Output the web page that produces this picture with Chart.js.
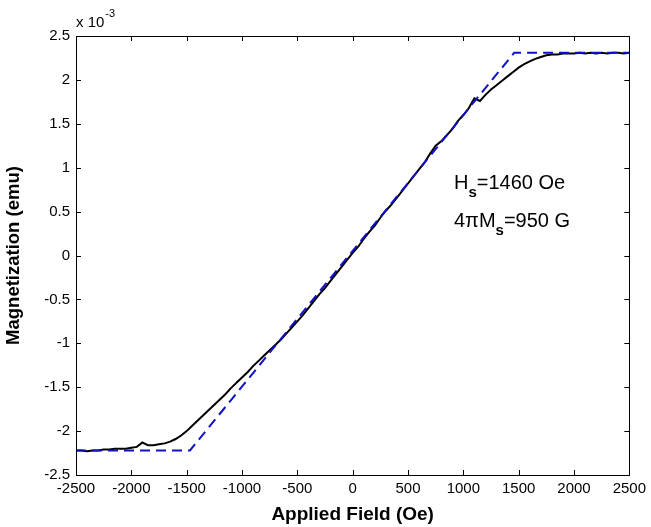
<!DOCTYPE html>
<html>
<head>
<meta charset="utf-8">
<script src="https://cdn.jsdelivr.net/npm/chart.js@4/dist/chart.umd.min.js"></script>
<style>
html,body{margin:0;padding:0;background:#fff;}
canvas{display:block;}
</style>
</head>
<body>
<canvas id="c" width="651" height="527"></canvas>
<script>
// Measured curve: applied field (Oe) and magnetization (x 10^-3 emu)
const fieldOe = [
-2500,-2450,-2400,-2350,-2300,-2250,-2200,-2150,-2100,-2050,
-2000,-1950,-1900,-1850,-1800,-1750,-1700,-1650,-1600,-1550,
-1500,-1450,-1400,-1350,-1300,-1250,-1200,-1150,-1100,-1050,
-1000,-950,-900,-850,-800,-750,-700,-650,-600,-550,
-500,-450,-400,-350,-300,-250,-200,-150,-100,-50,
0,50,100,150,200,250,300,350,400,450,
500,550,600,650,700,750,800,850,900,950,
1000,1050,1100,1150,1200,1250,1300,1350,1400,1450,
1500,1550,1600,1650,1700,1750,1800,1850,1900,1950,
2000,2050,2100,2150,2200,2250,2300,2350,2400,2450,2500];
const magMeasured = [
-2.22,-2.22,-2.23,-2.22,-2.22,-2.21,-2.21,-2.20,-2.20,-2.20,
-2.19,-2.18,-2.13,-2.16,-2.16,-2.15,-2.14,-2.12,-2.09,-2.05,
-2.00,-1.94,-1.88,-1.82,-1.76,-1.70,-1.64,-1.58,-1.51,-1.45,
-1.39,-1.33,-1.26,-1.20,-1.14,-1.08,-1.02,-0.96,-0.89,-0.82,
-0.75,-0.68,-0.60,-0.52,-0.44,-0.37,-0.29,-0.21,-0.13,-0.05,
0.03,0.10,0.19,0.27,0.34,0.43,0.51,0.58,0.66,0.74,
0.82,0.90,0.98,1.06,1.16,1.25,1.30,1.37,1.44,1.53,
1.60,1.68,1.79,1.76,1.83,1.89,1.94,1.99,2.04,2.09,
2.14,2.18,2.21,2.24,2.26,2.28,2.29,2.29,2.30,2.30,
2.30,2.31,2.30,2.31,2.30,2.31,2.30,2.31,2.31,2.30,2.31];
// Fitted saturation model (dashed)
const fitField = [-2500, -1470, 1460, 2500];
const fitMag = [-2.22, -2.22, 2.31, 2.31];
// Axis ticks
const xTicks = [-2500,-2000,-1500,-1000,-500,0,500,1000,1500,2000,2500];
const yTicks = [-2.5,-2,-1.5,-1,-0.5,0,0.5,1,1.5,2,2.5];
const annotLine1 = ['H', 's', '=1460 Oe'];
const annotLine2 = ['4πM', 's', '=950 G'];

const FONT = "'Liberation Sans', Arial, sans-serif";

const boxPlugin = {
  id: 'box',
  afterDraw(chart) {
    const ctx = chart.ctx;
    const a = chart.chartArea;
    const xs = chart.scales.x, ys = chart.scales.y;
    ctx.save();
    ctx.strokeStyle = '#000';
    ctx.lineWidth = 1;
    ctx.strokeRect(Math.round(a.left)+0.5, Math.round(a.top)+0.5, Math.round(a.right-a.left), Math.round(a.bottom-a.top));
    ctx.beginPath();
    const L = 5;
    xTicks.forEach(v => {
      const px = Math.round(xs.getPixelForValue(v)) + 0.5;
      ctx.moveTo(px, a.bottom); ctx.lineTo(px, a.bottom - L);
      ctx.moveTo(px, a.top); ctx.lineTo(px, a.top + L);
    });
    yTicks.forEach(v => {
      const py = Math.round(ys.getPixelForValue(v)) + 0.5;
      ctx.moveTo(a.left, py); ctx.lineTo(a.left + L, py);
      ctx.moveTo(a.right, py); ctx.lineTo(a.right - L, py);
    });
    ctx.stroke();
    // exponent label
    ctx.fillStyle = '#000';
    ctx.textBaseline = 'alphabetic';
    ctx.textAlign = 'left';
    ctx.font = '15px ' + FONT;
    ctx.fillText('x 10', a.left, 27);
    const w = ctx.measureText('x 10').width;
    ctx.font = '11px ' + FONT;
    ctx.fillText('-3', a.left + w + 1, 17);
    // annotation
    const drawSub = (parts, x, y) => {
      ctx.font = '20px ' + FONT;
      ctx.fillText(parts[0], x, y);
      let cx = x + ctx.measureText(parts[0]).width;
      ctx.font = 'bold 15px ' + FONT;
      ctx.fillText(parts[1], cx, y + 8);
      cx += ctx.measureText(parts[1]).width;
      ctx.font = '20px ' + FONT;
      ctx.fillText(parts[2], cx, y);
    };
    drawSub(annotLine1, 454, 189);
    drawSub(annotLine2, 454, 227);
    ctx.restore();
  }
};

new Chart(document.getElementById('c'), {
  type: 'line',
  data: {
    datasets: [
      {
        data: fieldOe.map((f, i) => ({x: f, y: magMeasured[i]})),
        borderColor: '#000',
        borderWidth: 2,
        pointRadius: 0,
        tension: 0,
        order: 2
      },
      {
        data: fitField.map((f, i) => ({x: f, y: fitMag[i]})),
        borderColor: '#1010c8',
        borderWidth: 2,
        borderDash: [10, 6],
        pointRadius: 0,
        tension: 0,
        order: 1
      }
    ]
  },
  options: {
    responsive: false,
    animation: false,
    events: [],
    layout: {padding: {left: 0, right: 16, top: 36, bottom: 0}},
    plugins: {legend: {display: false}, tooltip: {enabled: false}},
    scales: {
      x: {
        type: 'linear',
        min: -2500, max: 2500,
        afterBuildTicks: s => { s.ticks = xTicks.map(v => ({value: v})); },
        afterFit: s => { s.height = 52; },
        grid: {display: false, drawTicks: false},
        border: {display: false},
        ticks: {
          color: '#000', padding: 5, maxRotation: 0, autoSkip: false,
          font: {family: FONT, size: 15},
          callback: v => String(v)
        },
        title: {
          display: true, text: 'Applied Field (Oe)', color: '#000',
          font: {family: FONT, size: 19, weight: 'bold'},
          padding: {top: 0, bottom: 1}
        }
      },
      y: {
        type: 'linear',
        min: -2.5, max: 2.5,
        afterBuildTicks: s => { s.ticks = yTicks.map(v => ({value: v})); },
        afterFit: s => { s.width = 76; },
        grid: {display: false, drawTicks: false},
        border: {display: false},
        ticks: {
          color: '#000', padding: 6, autoSkip: false,
          font: {family: FONT, size: 15},
          callback: v => String(+v.toFixed(1))
        },
        title: {
          display: true, text: 'Magnetization (emu)', color: '#000',
          font: {family: FONT, size: 18.5, weight: 'bold'},
          padding: {top: 3, bottom: 0}
        }
      }
    }
  },
  plugins: [boxPlugin]
});
</script>
</body>
</html>
